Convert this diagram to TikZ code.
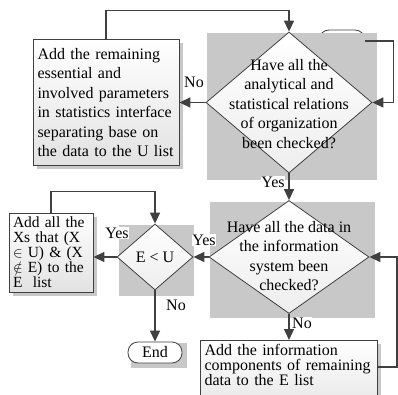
\documentclass[tikz,border=0pt]{standalone}
\usepackage{fontspec}
\setmainfont{Liberation Serif}
\usetikzlibrary{arrows.meta}
\usetikzlibrary{shapes.geometric}
\usetikzlibrary{shadows}
\definecolor{line1}{RGB}{64, 64, 64}
\definecolor{gray1}{RGB}{200, 200, 200}
\definecolor{shade1}{RGB}{226, 226, 226}

\begin{document}
\begin{tikzpicture}[x=1pt, y=1pt, >={Triangle[length=11pt,width=10pt]},
  every node/.style={font=\fontsize{16}{19.5}\selectfont},
  box/.style={rectangle, draw=line1, line width=0.8pt, top color=white, bottom color=shade1,
    drop shadow={shadow xshift=3.5pt, shadow yshift=-3.5pt, fill=gray1, opacity=1}, inner sep=4pt, align=left},
  ask/.style={diamond, draw=line1, line width=0.8pt, top color=white, bottom color=shade1!60, inner sep=0pt},
  stop/.style={rectangle, rounded corners=10pt, draw=line1, line width=0.8pt, fill=white, inner sep=0pt},
  link/.style={->, draw=line1, line width=1.4pt},
  lbl/.style={fill=white, inner sep=0.5pt}]
  \useasboundingbox (0,0) rectangle (398,394);
  \node[stop, minimum width=46pt, minimum height=22pt] (n3) at (342,353) {};
  % grey backgrounds
  \fill[gray1] (207,214) rectangle (377,361);
  \fill[gray1] (210,76) rectangle (375,192);
  \fill[gray1] (119,98) rectangle (194,169);
  \fill[gray1] (131,26) rectangle (187,51);
  \node[box, minimum width=146pt, minimum height=126pt, text width=137pt] (n1) at (106,291.5)
    {Add the remaining\\ essential and\\ involved parameters\\ in statistics interface\\ separating base on\\ the data to the U list};
  \node[ask, minimum width=166pt, minimum height=141pt] (n2) at (289,291.5) {};
  \node[align=center] (q2) at (289,290)
    {Have all the\\ analytical and\\ statistical relations\\ of organization\\ been checked?};
  \node[ask, minimum width=160pt, minimum height=113pt] (n4) at (289,137) {};
  \node[align=center] (q4) at (289,138)
    {Have all the data in\\ the information\\ system been\\ checked?};
  \node[ask, minimum width=76pt, minimum height=66pt] (n5) at (155,137) {E < U};
  \node[box, minimum width=84pt, minimum height=79pt, text width=76pt, font=\fontsize{15.5}{15}\selectfont] (n6) at (51,141.5)
    {Add all the\\ Xs that (X\\ $\in$ U) \& (X\\ $\notin$ E) to the\\ E~ list};
  \node[stop, minimum width=54pt, minimum height=21pt] (n7) at (155,41.5) {End};
  \node[box, anchor=north, text width=169pt, text depth=60pt, font=\fontsize{16}{14.5}\selectfont] (n8) at (289,54)
    {Add the information\\ components of remaining\\ data to the E list};
  \foreach \from/\to in {n2.south/n4.north, n5.south/n7.north, n4.south/n8.north, n4.west/n5.east}
    \draw[link] (\from) -- (\to);
  \draw[link] (n2.west) -- (n2.west -| n1.east);
  \draw[link] (n5.west) -- (n5.west -| n6.east);
  \draw[link] (n1.north) -- ++(0,28.5) -| (n2.north);
  \draw[link] (n6.north) -- ++(0,21) -| (n5.north);
  \draw[link] (n3.east) -- ++(28,0) |- (n2.east);
  \draw[link] ([yshift=-27pt]n8.north east) -- ++(19,0) |- (n4.east);
  \node[lbl] (l1) at (194,312) {No};
  \node[lbl] (l2) at (273,212) {Yes};
  \node[lbl] (l3) at (204,154) {Yes};
  \node[lbl] (l4) at (117,161) {Yes};
  \node[lbl] (l5) at (176,89) {No};
  \node[lbl] (l6) at (302,71) {No};
\end{tikzpicture}
\end{document}
